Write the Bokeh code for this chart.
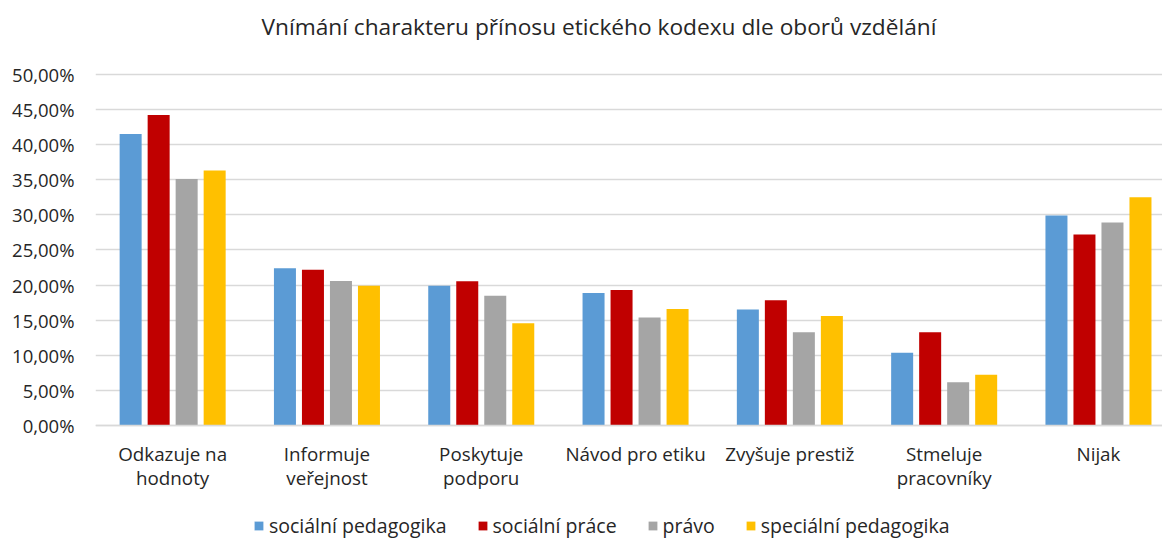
from bokeh.plotting import figure
from bokeh.models import Range1d, Legend, LegendItem, FixedTicker, Label, ColumnDataSource
from bokeh.embed import file_html
from bokeh.resources import INLINE
from bokeh.transform import dodge

# ---- data ----
categories = ["Odkazuje na\nhodnoty", "Informuje\nveřejnost", "Poskytuje\npodporu",
              "Návod pro etiku", "Zvyšuje prestiž", "Stmeluje\npracovníky", "Nijak"]
series_names = ["sociální pedagogika", "sociální práce", "právo", "speciální pedagogika"]
socialni_pedagogika = [41.5, 22.4, 19.9, 18.9, 16.55, 10.4, 29.9]
socialni_prace = [44.2, 22.2, 20.55, 19.3, 17.85, 13.3, 27.2]
pravo = [35.1, 20.6, 18.5, 15.4, 13.3, 6.2, 28.9]
specialni_pedagogika = [36.3, 19.9, 14.6, 16.6, 15.6, 7.25, 32.5]
y_ticks = [0, 5, 10, 15, 20, 25, 30, 35, 40, 45, 50]
y_tick_labels = ["0,00%", "5,00%", "10,00%", "15,00%", "20,00%", "25,00%",
                 "30,00%", "35,00%", "40,00%", "45,00%", "50,00%"]
colors = ["#5B9BD5", "#C00000", "#A5A5A5", "#FFC000"]
title_text = "Vnímání charakteru přínosu etického kodexu dle oborů vzdělání"

x_pos = list(range(len(categories)))
series_values = [socialni_pedagogika, socialni_prace, pravo, specialni_pedagogika]

FONT = "Open Sans"
TXT = "#262626"

# the frame covers the full height; headroom above 50 % holds the title and the
# room below 0 holds the category labels (axis fixed at 0) and the legend
p = figure(width=1162, height=539, output_backend="svg", toolbar_location=None,
           x_range=Range1d(-0.5, 6.415), y_range=Range1d(-16.17, 60.48),
           min_border_left=95, min_border_right=0, min_border_top=0, min_border_bottom=0)

p.add_layout(Label(x=2.763, y=56.8, text=title_text, text_align="center",
                   text_baseline="alphabetic", text_font=FONT, text_font_size="22.7px",
                   text_color=TXT))

source = ColumnDataSource(dict(x=x_pos, s0=series_values[0], s1=series_values[1],
                               s2=series_values[2], s3=series_values[3]))
step = 0.1815
bw = 0.1426
items = []
for i, (name, col) in enumerate(zip(series_names, colors)):
    off = (i - 1.5) * step
    r = p.vbar(x=dodge("x", off, range=p.x_range), top=f"s{i}", bottom=0, width=bw,
               source=source, fill_color=col, line_color=None)
    items.append(LegendItem(label=name, renderers=[r]))

p.outline_line_color = None
p.xgrid.visible = False
p.ygrid.grid_line_color = "#D9D9D9"
p.ygrid.grid_line_width = 1.5
p.ygrid.ticker = FixedTicker(ticks=y_ticks)

p.yaxis.ticker = FixedTicker(ticks=y_ticks)
p.yaxis.major_label_overrides = {t: l for t, l in zip(y_ticks, y_tick_labels)}
p.yaxis.axis_line_color = None
p.yaxis.major_tick_line_color = None
p.yaxis.minor_tick_line_color = None
p.yaxis.major_label_standoff = 15
p.yaxis.major_label_text_font = FONT
p.yaxis.major_label_text_font_size = "18.5px"
p.yaxis.major_label_text_color = TXT

p.xaxis.fixed_location = 0
p.xaxis.ticker = FixedTicker(ticks=x_pos)
p.xaxis.major_label_overrides = {i: c for i, c in zip(x_pos, categories)}
p.xaxis.axis_line_color = "#D9D9D9"
p.xaxis.axis_line_width = 1.5
p.xaxis.major_tick_line_color = None
p.xaxis.minor_tick_line_color = None
p.xaxis.major_label_standoff = 9
p.xaxis.major_label_text_font = FONT
p.xaxis.major_label_text_font_size = "18.8px"
p.xaxis.major_label_text_line_height = 0.95
p.xaxis.major_label_text_color = TXT

legend = Legend(items=items, orientation="horizontal", location=(158, 0),
                glyph_width=11, glyph_height=11, label_standoff=5, spacing=30,
                padding=0, margin=0, border_line_color=None, background_fill_alpha=0,
                label_text_font=FONT, label_text_font_size="19.5px", label_text_color=TXT)
p.add_layout(legend, "center")

open("out.html", "w").write(file_html(p, INLINE))
